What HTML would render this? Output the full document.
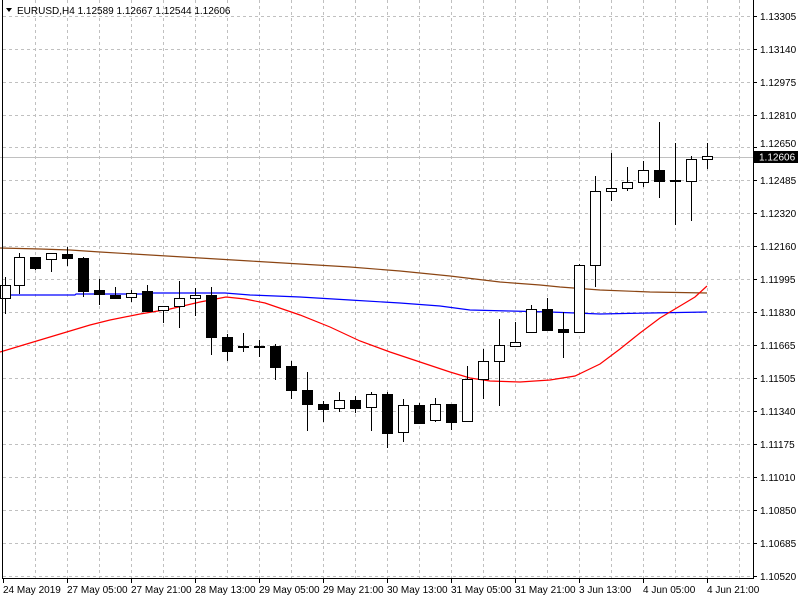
<!DOCTYPE html>
<html><head><meta charset="utf-8"><style>
html,body{margin:0;padding:0;background:#fff;width:800px;height:600px;overflow:hidden}
svg{display:block}
text{font-family:"Liberation Sans",sans-serif;font-size:10px;fill:#000}
</style></head><body>
<svg id="s" width="800" height="600" xmlns="http://www.w3.org/2000/svg">
<rect width="800" height="600" fill="#fff"/>
<g id="grid" stroke="#c0c0c0" stroke-dasharray="3,3" stroke-width="1"></g>
<line x1="0" y1="157.5" x2="753" y2="157.5" stroke="#c0c0c0"/>
<polyline fill="none" stroke="#8b4513" stroke-width="1.2" points="0,248 40,249 70,250 100,252 150,255 200,258 250,261 300,264 350,267 400,271 450,276 500,282 540,285 560,287 600,290 650,292 707,293"/>
<polyline fill="none" stroke="#0000ff" stroke-width="1.2" points="0,295 75,295 76,294 150,294 151,293 225,293 250,295 300,297 350,300 400,303 440,306 470,310 510,311 550,312 600,314 650,313 707,312"/>
<polyline fill="none" stroke="#ff0000" stroke-width="1.2" points="0,352 20,346 40,340 70,331 90,325 110,320 140,314 170,309 200,302 226,297 245,299 265,303 300,315 330,327 360,341 390,352 420,362 450,372 470,378 490,381 520,382 550,380 575,376 600,364 620,349 640,333 660,318 680,306 695,297 707,286"/>
<g id="c"></g>
<line x1="2.5" y1="0" x2="2.5" y2="578" stroke="#000"/>
<line x1="753.5" y1="0" x2="753.5" y2="579" stroke="#000"/>
<line x1="2" y1="578.5" x2="754" y2="578.5" stroke="#000"/>
<g id="ticks" stroke="#000"></g>
<polygon points="6,8 12,8 9,12" fill="#000"/>
<text x="17" y="14">EURUSD,H4  1.12589 1.12667 1.12544 1.12606</text>
<g id="yl"></g>
<rect x="754" y="151" width="44" height="12" fill="#000"/>
<text x="759" y="160.5" style="fill:#fff">1.12606</text>
<g id="xl">
<text x="3" y="593">24 May 2019</text>
<text x="67" y="593">27 May 05:00</text>
<text x="131" y="593">27 May 21:00</text>
<text x="195" y="593">28 May 13:00</text>
<text x="259" y="593">29 May 05:00</text>
<text x="323" y="593">29 May 21:00</text>
<text x="387" y="593">30 May 13:00</text>
<text x="451" y="593">31 May 05:00</text>
<text x="515" y="593">31 May 21:00</text>
<text x="579" y="593">3 Jun 13:00</text>
<text x="643" y="593">4 Jun 05:00</text>
<text x="707" y="593">4 Jun 21:00</text>
</g>
</svg>
<script>
var NS="http://www.w3.org/2000/svg";
function el(p,t,a){var e=document.createElementNS(NS,t);for(var k in a)e.setAttribute(k,a[k]);p.appendChild(e);return e;}
var g=document.getElementById('grid'),tk=document.getElementById('ticks'),yl=document.getElementById('yl');
var ys=[16,49,82,115,147,180,213,246,279,312,345,378,411,444,477,510,543,576];
var lb=["1.13305","1.13140","1.12975","1.12810","1.12650","1.12485","1.12320","1.12160","1.11995","1.11830","1.11665","1.11505","1.11340","1.11175","1.11010","1.10850","1.10685","1.10520"];
ys.forEach(function(y,i){el(g,'line',{x1:3,y1:y+.5,x2:753,y2:y+.5});el(tk,'line',{x1:753,y1:y+.5,x2:757,y2:y+.5});
 if(i!=4){var t=el(yl,'text',{x:760,y:y+4});t.textContent=lb[i];}});
var t=el(yl,'text',{x:760,y:147+4-4});t.textContent=lb[4];
for(var x=35;x<753;x+=32){el(g,'line',{x1:x+.5,y1:0,x2:x+.5,y2:578});}
for(var x=3;x<753;x+=64){el(tk,'line',{x1:x+.5,y1:578,x2:x+.5,y2:583});}
// x, high, top, bottom, low, bull
var C=[[5,277,285,298,314,1],[19,253,257,285,294,1],[35,257,257,268,270,0],[51,253,253,259,272,1],[67,247,254,258,266,0],
[83,257,258,291,297,0],[99,279,290,294,305,0],[115,287,295,298,299,0],[131,290,293,297,302,1],[147,285,291,311,312,0],
[163,306,306,310,323,1],[179,281,298,306,328,1],[195,288,295,298,316,1],[211,287,295,337,355,0],[227,334,337,351,361,0],
[243,333,346,347,352,0],[259,340,346,346,357,0],[275,344,346,367,380,0],[291,361,366,390,399,0],[307,372,390,404,431,0],
[323,401,404,409,422,0],[339,392,400,408,412,1],[355,396,400,408,413,0],[371,392,394,407,431,1],[387,392,394,433,448,0],
[403,399,405,432,442,1],[419,403,405,423,424,0],[435,398,404,420,422,1],[451,404,404,422,430,0],[467,366,379,421,422,1],
[483,349,361,379,399,1],[499,319,345,361,406,1],[515,322,342,346,346,1],[531,305,309,332,333,1],[547,298,309,330,331,0],
[563,312,329,332,358,0],[579,264,265,332,332,1],[595,176,191,265,287,1],[611,153,188,191,201,1],[627,167,182,188,191,1],
[643,161,170,182,187,1],[659,122,170,181,198,0],[675,143,180,181,225,0],[691,156,159,181,221,1],[707,143,156,159,169,1]];
var c=document.getElementById('c');
C.forEach(function(d){var x=d[0];
 el(c,'line',{x1:x+.5,y1:d[1],x2:x+.5,y2:d[4],stroke:'#000'});
 var h=Math.max(d[3]-d[2],1);
 el(c,'rect',{x:x-4.5,y:d[2]+.5,width:10,height:h,fill:d[5]?'#fff':'#000',stroke:'#000'});
});
</script>
</body></html>
